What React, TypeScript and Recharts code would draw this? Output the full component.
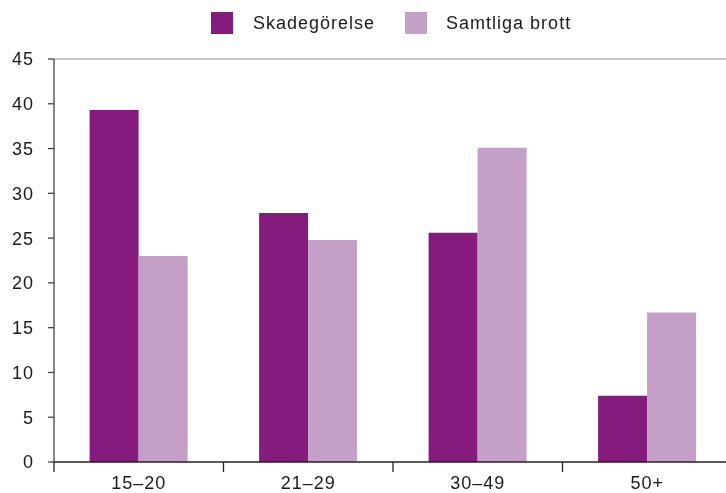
import React from 'react';
import {
    Bar,
    BarChart,
    Legend,
    ReferenceLine,
    XAxis,
    YAxis,
} from 'recharts';

const ageGroups = ['15–20', '21–29', '30–49', '50+'];
const skadegorelse = [39.3, 27.8, 25.6, 7.4];
const samtligaBrott = [23.0, 24.8, 35.1, 16.7];
const yTicks = [0, 5, 10, 15, 20, 25, 30, 35, 40, 45];

const data = ageGroups.map((group, i) => ({
    group,
    skadegorelse: skadegorelse[i],
    samtliga: samtligaBrott[i],
}));

const DARK = '#861b7e';
const LIGHT = '#c49fc7';
const FONT = '"Liberation Sans", Arial, Helvetica, sans-serif';

const CHART_W = 732;
const CHART_H = 493;
const Y_W = 54;
const BAND = (CHART_W - Y_W) / ageGroups.length;

const GroupTick = (props: any) => {
    const { x, y, payload, index } = props;
    const left = x - BAND / 2;
    return (
        <g>
            <line x1={left} y1={y - 10} x2={left} y2={y} stroke="#222" strokeWidth={1.3} />
            {index === ageGroups.length - 1 && (
                <line x1={x + BAND / 2} y1={y - 10} x2={x + BAND / 2} y2={y} stroke="#222" strokeWidth={1.3} />
            )}
            <text
                x={x}
                y={y + 17}
                textAnchor="middle"
                fontSize={18}
                letterSpacing={1}
                fill="#1a1a1a"
                fontFamily={FONT}
            >
                {payload.value}
            </text>
        </g>
    );
};

const LegendBox = () => (
    <div
        style={{
            height: 59,
            boxSizing: 'border-box',
            paddingTop: 12,
            paddingLeft: 211,
            display: 'flex',
            alignItems: 'flex-start',
            fontFamily: FONT,
            fontSize: 18,
            letterSpacing: 1,
            lineHeight: '22px',
            color: '#1a1a1a',
        }}
    >
        <span style={{ width: 22, height: 22, background: DARK, display: 'inline-block' }} />
        <span style={{ marginLeft: 20 }}>Skadegörelse</span>
        <span style={{ width: 22, height: 22, background: LIGHT, display: 'inline-block', marginLeft: 30 }} />
        <span style={{ marginLeft: 19 }}>Samtliga brott</span>
    </div>
);

const App = () => {
    return (
        <div style={{ width: 726, height: 493, overflow: 'hidden', position: 'fixed', top: 0, left: 0 }}>
            <BarChart
                width={CHART_W}
                height={CHART_H}
                data={data}
                margin={{ top: 0, right: 0, bottom: 0, left: 0 }}
                barCategoryGap="21%"
                barGap={0}
            >
                <Legend verticalAlign="top" align="left" content={<LegendBox />} />
                <ReferenceLine y={45} stroke="#c3cad2" strokeWidth={2} />
                <XAxis
                    dataKey="group"
                    tick={<GroupTick />}
                    tickLine={false}
                    tickSize={10}
                    tickMargin={0}
                    axisLine={{ stroke: '#222', strokeWidth: 1.3 }}
                    interval={0}
                    height={31}
                />
                <YAxis
                    domain={[0, 45]}
                    ticks={yTicks}
                    width={Y_W}
                    tickSize={6}
                    tickMargin={14}
                    axisLine={{ stroke: '#444', strokeWidth: 1.3 }}
                    tickLine={{ stroke: '#444', strokeWidth: 1.3 }}
                    tick={{ fontSize: 18, fill: '#1a1a1a', fontFamily: FONT, letterSpacing: 1 }}
                    interval={0}
                />
                <Bar dataKey="skadegorelse" name="Skadegörelse" fill={DARK} isAnimationActive={false} />
                <Bar dataKey="samtliga" name="Samtliga brott" fill={LIGHT} isAnimationActive={false} />
            </BarChart>
        </div>
    );
};

export default App;
